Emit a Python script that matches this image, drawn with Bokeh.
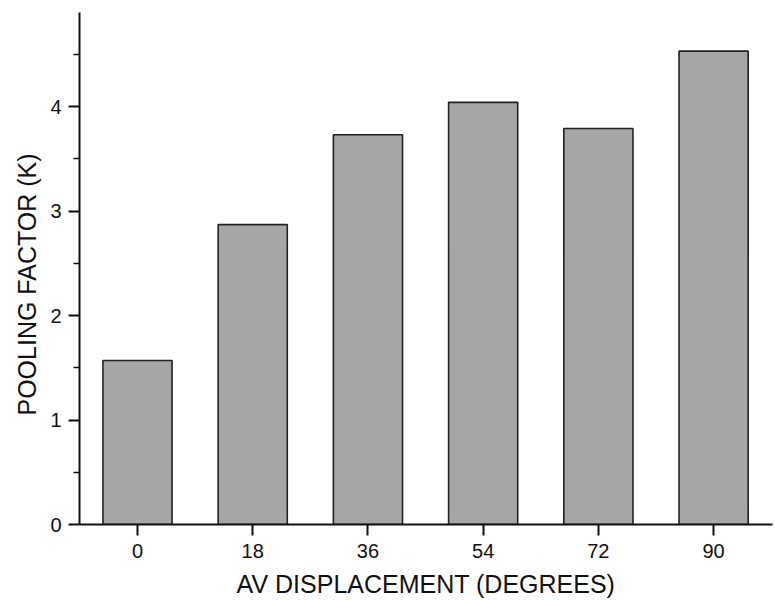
from bokeh.plotting import figure
from bokeh.models import Range1d, FixedTicker, Title
from bokeh.embed import file_html
from bokeh.resources import INLINE

# Data
displacement = [0, 18, 36, 54, 72, 90]
pooling_factor = [1.57, 2.87, 3.73, 4.04, 3.79, 4.53]
x_ticks = [0, 18, 36, 54, 72, 90]
y_ticks = [0, 1, 2, 3, 4]
y_minor = [0.5, 1.5, 2.5, 3.5, 4.5]

FONT = "Liberation Sans"

p = figure(width=775, height=600, output_backend="svg", toolbar_location=None,
           x_range=Range1d(-9.06, 99.2), y_range=Range1d(0, 4.9))
p.min_border_left = 79
p.min_border_right = 3
p.min_border_top = 12
p.min_border_bottom = 76
p.outline_line_color = None
p.xgrid.visible = False
p.ygrid.visible = False
p.background_fill_color = "white"
p.border_fill_color = "white"

p.vbar(x=displacement, top=pooling_factor, width=10.8, bottom=0,
       fill_color="#a6a6a6", line_color="#222222", line_width=1.6)

# X axis
xa = p.xaxis[0]
xa.ticker = FixedTicker(ticks=x_ticks)
xa.axis_line_width = 2
xa.axis_line_color = "#111111"
xa.major_tick_line_width = 2
xa.major_tick_line_color = "#111111"
xa.major_tick_out = 11
xa.major_tick_in = 0
xa.minor_tick_line_color = None
xa.major_label_text_font = FONT
xa.major_label_text_font_size = "20px"
xa.major_label_text_color = "#111111"
xa.major_label_standoff = 8
xa.axis_label = "AV DISPLACEMENT (DEGREES)"
xa.axis_label_text_font = FONT
xa.axis_label_text_font_size = "25px"
xa.axis_label_text_font_style = "normal"
xa.axis_label_text_color = "#111111"
xa.axis_label_standoff = 9

# Y axis
ya = p.yaxis[0]
ya.ticker = FixedTicker(ticks=y_ticks, minor_ticks=y_minor)
ya.axis_line_width = 2
ya.axis_line_color = "#111111"
ya.major_tick_line_width = 2
ya.major_tick_line_color = "#111111"
ya.major_tick_out = 11
ya.major_tick_in = 0
ya.minor_tick_line_width = 1.5
ya.minor_tick_line_color = "#111111"
ya.minor_tick_out = 6
ya.minor_tick_in = 0
ya.major_label_text_font = FONT
ya.major_label_text_font_size = "20px"
ya.major_label_text_color = "#111111"
ya.major_label_standoff = 7

ylab = Title(text="POOLING FACTOR (K)", align="left", offset=109,
             text_font=FONT, text_font_size="25px", text_font_style="normal",
             text_color="#111111", standoff=14)
p.add_layout(ylab, "left")

open("out.html", "w").write(file_html(p, INLINE))
